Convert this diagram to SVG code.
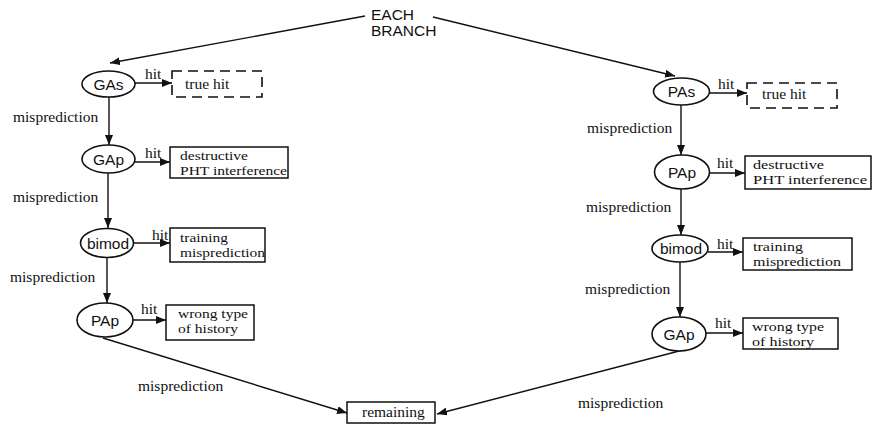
<svg xmlns="http://www.w3.org/2000/svg" width="873" height="425" viewBox="0 0 873 425">
<defs>
<marker id="ah" markerUnits="userSpaceOnUse" markerWidth="11" markerHeight="8" refX="10" refY="4" orient="auto">
<path d="M0,0 L10,4 L0,8 z" fill="#111"/>
</marker>
<style>
.e{fill:#fff;stroke:#111;stroke-width:1.6}
.b{fill:#fff;stroke:#111;stroke-width:1.5}
.d{fill:#fff;stroke:#111;stroke-width:1.6;stroke-dasharray:10 6}
.n{font-family:"Liberation Sans",Arial,sans-serif;font-size:15.5px;fill:#111;text-anchor:middle}
.t{font-family:"Liberation Serif","Times New Roman",serif;font-size:15.5px;fill:#111}
.bt{font-family:"Liberation Serif","Times New Roman",serif;font-size:13.5px;fill:#111}
.h{font-family:"Liberation Sans",Arial,sans-serif;font-size:15.5px;fill:#111}
.c line{stroke:#111;stroke-width:1.4;marker-end:url(#ah)}
</style>
</defs>
<rect width="873" height="425" fill="#fff"/>

<g id="root">
<text class="h" x="371" y="20">EACH</text>
<text class="h" x="371" y="36">BRANCH</text>
</g>

<g class="c" id="connectors">
<line x1="365" y1="16" x2="110" y2="63"/>
<line x1="433" y1="17" x2="675" y2="76"/>
<line x1="135" y1="83" x2="172" y2="83"/>
<line x1="109" y1="97" x2="109" y2="145"/>
<line x1="135" y1="162" x2="170" y2="162"/>
<line x1="108" y1="173" x2="108" y2="228"/>
<line x1="133" y1="243" x2="170" y2="243"/>
<line x1="107" y1="258" x2="107" y2="303"/>
<line x1="133" y1="320" x2="166" y2="320"/>
<line x1="103" y1="338" x2="347" y2="413"/>
<line x1="710" y1="93" x2="747" y2="93"/>
<line x1="681" y1="105" x2="681" y2="155"/>
<line x1="710" y1="173" x2="745" y2="173"/>
<line x1="681" y1="189" x2="681" y2="235"/>
<line x1="708" y1="252" x2="743" y2="252"/>
<line x1="680" y1="262" x2="680" y2="317"/>
<line x1="705" y1="333" x2="743" y2="333"/>
<line x1="683" y1="350" x2="437" y2="414"/>
</g>

<g id="edge-labels">
<text class="t" x="145" y="79">hit</text>
<text class="t" x="13" y="122">misprediction</text>
<text class="t" x="145" y="158">hit</text>
<text class="t" x="13" y="202">misprediction</text>
<text class="t" x="152" y="240">hit</text>
<text class="t" x="10" y="282">misprediction</text>
<text class="t" x="141" y="314">hit</text>
<text class="t" x="138" y="391">misprediction</text>
<text class="t" x="718" y="89">hit</text>
<text class="t" x="587" y="133">misprediction</text>
<text class="t" x="717" y="168">hit</text>
<text class="t" x="586" y="212">misprediction</text>
<text class="t" x="717" y="249">hit</text>
<text class="t" x="585" y="294">misprediction</text>
<text class="t" x="715" y="328">hit</text>
<text class="t" x="578" y="408">misprediction</text>
</g>

<g id="GAs-left"><ellipse class="e" cx="108.5" cy="84" rx="26.5" ry="13"/><text class="n" x="108.5" y="89.5">GAs</text></g>
<g id="truehit-left"><rect class="d" x="172" y="71" width="90" height="26"/><text class="t" x="185" y="89">true hit</text></g>
<g id="GAp-left"><ellipse class="e" cx="108.5" cy="159" rx="26.5" ry="14"/><text class="n" x="108.5" y="164.5">GAp</text></g>
<g id="destructive-left"><rect class="b" x="170" y="147" width="118" height="31"/><text class="bt" x="180" y="160" textLength="68" lengthAdjust="spacingAndGlyphs">destructive</text><text class="bt" x="180" y="175" textLength="107" lengthAdjust="spacingAndGlyphs">PHT interference</text></g>
<g id="bimod-left"><ellipse class="e" cx="107" cy="243" rx="26.5" ry="14.5"/><text class="n" x="108" y="248.5">bimod</text></g>
<g id="training-left"><rect class="b" x="170" y="228" width="95" height="34"/><text class="bt" x="180" y="242" textLength="48" lengthAdjust="spacingAndGlyphs">training</text><text class="bt" x="180" y="257" textLength="85" lengthAdjust="spacingAndGlyphs">misprediction</text></g>
<g id="PAp-left"><ellipse class="e" cx="105" cy="320" rx="28" ry="17"/><text class="n" x="105" y="325.5">PAp</text></g>
<g id="wrongtype-left"><rect class="b" x="166" y="305" width="88" height="35"/><text class="bt" x="178" y="318" textLength="70" lengthAdjust="spacingAndGlyphs">wrong type</text><text class="bt" x="178" y="333" textLength="60" lengthAdjust="spacingAndGlyphs">of history</text></g>

<g id="remaining"><rect class="b" x="347" y="402" width="88" height="21"/><text class="t" x="362" y="417">remaining</text></g>

<g id="PAs-right"><ellipse class="e" cx="681.5" cy="91.5" rx="28" ry="13.5"/><text class="n" x="681.5" y="97">PAs</text></g>
<g id="truehit-right"><rect class="d" x="747" y="83" width="90" height="25"/><text class="t" x="762" y="99">true hit</text></g>
<g id="PAp-right"><ellipse class="e" cx="682" cy="172" rx="27.5" ry="17"/><text class="n" x="682" y="177.5">PAp</text></g>
<g id="destructive-right"><rect class="b" x="745" y="156" width="126" height="33"/><text class="bt" x="753" y="169" textLength="71" lengthAdjust="spacingAndGlyphs">destructive</text><text class="bt" x="753" y="184" textLength="114" lengthAdjust="spacingAndGlyphs">PHT interference</text></g>
<g id="bimod-right"><ellipse class="e" cx="680" cy="248.5" rx="28" ry="13.5"/><text class="n" x="681" y="254">bimod</text></g>
<g id="training-right"><rect class="b" x="743" y="238" width="109" height="32"/><text class="bt" x="753" y="251" textLength="50" lengthAdjust="spacingAndGlyphs">training</text><text class="bt" x="753" y="266" textLength="88" lengthAdjust="spacingAndGlyphs">misprediction</text></g>
<g id="GAp-right"><ellipse class="e" cx="679" cy="334" rx="27" ry="17"/><text class="n" x="679" y="339.5">GAp</text></g>
<g id="wrongtype-right"><rect class="b" x="743" y="318" width="95" height="31"/><text class="bt" x="752" y="331" textLength="72" lengthAdjust="spacingAndGlyphs">wrong type</text><text class="bt" x="752" y="346" textLength="62" lengthAdjust="spacingAndGlyphs">of history</text></g>
</svg>
